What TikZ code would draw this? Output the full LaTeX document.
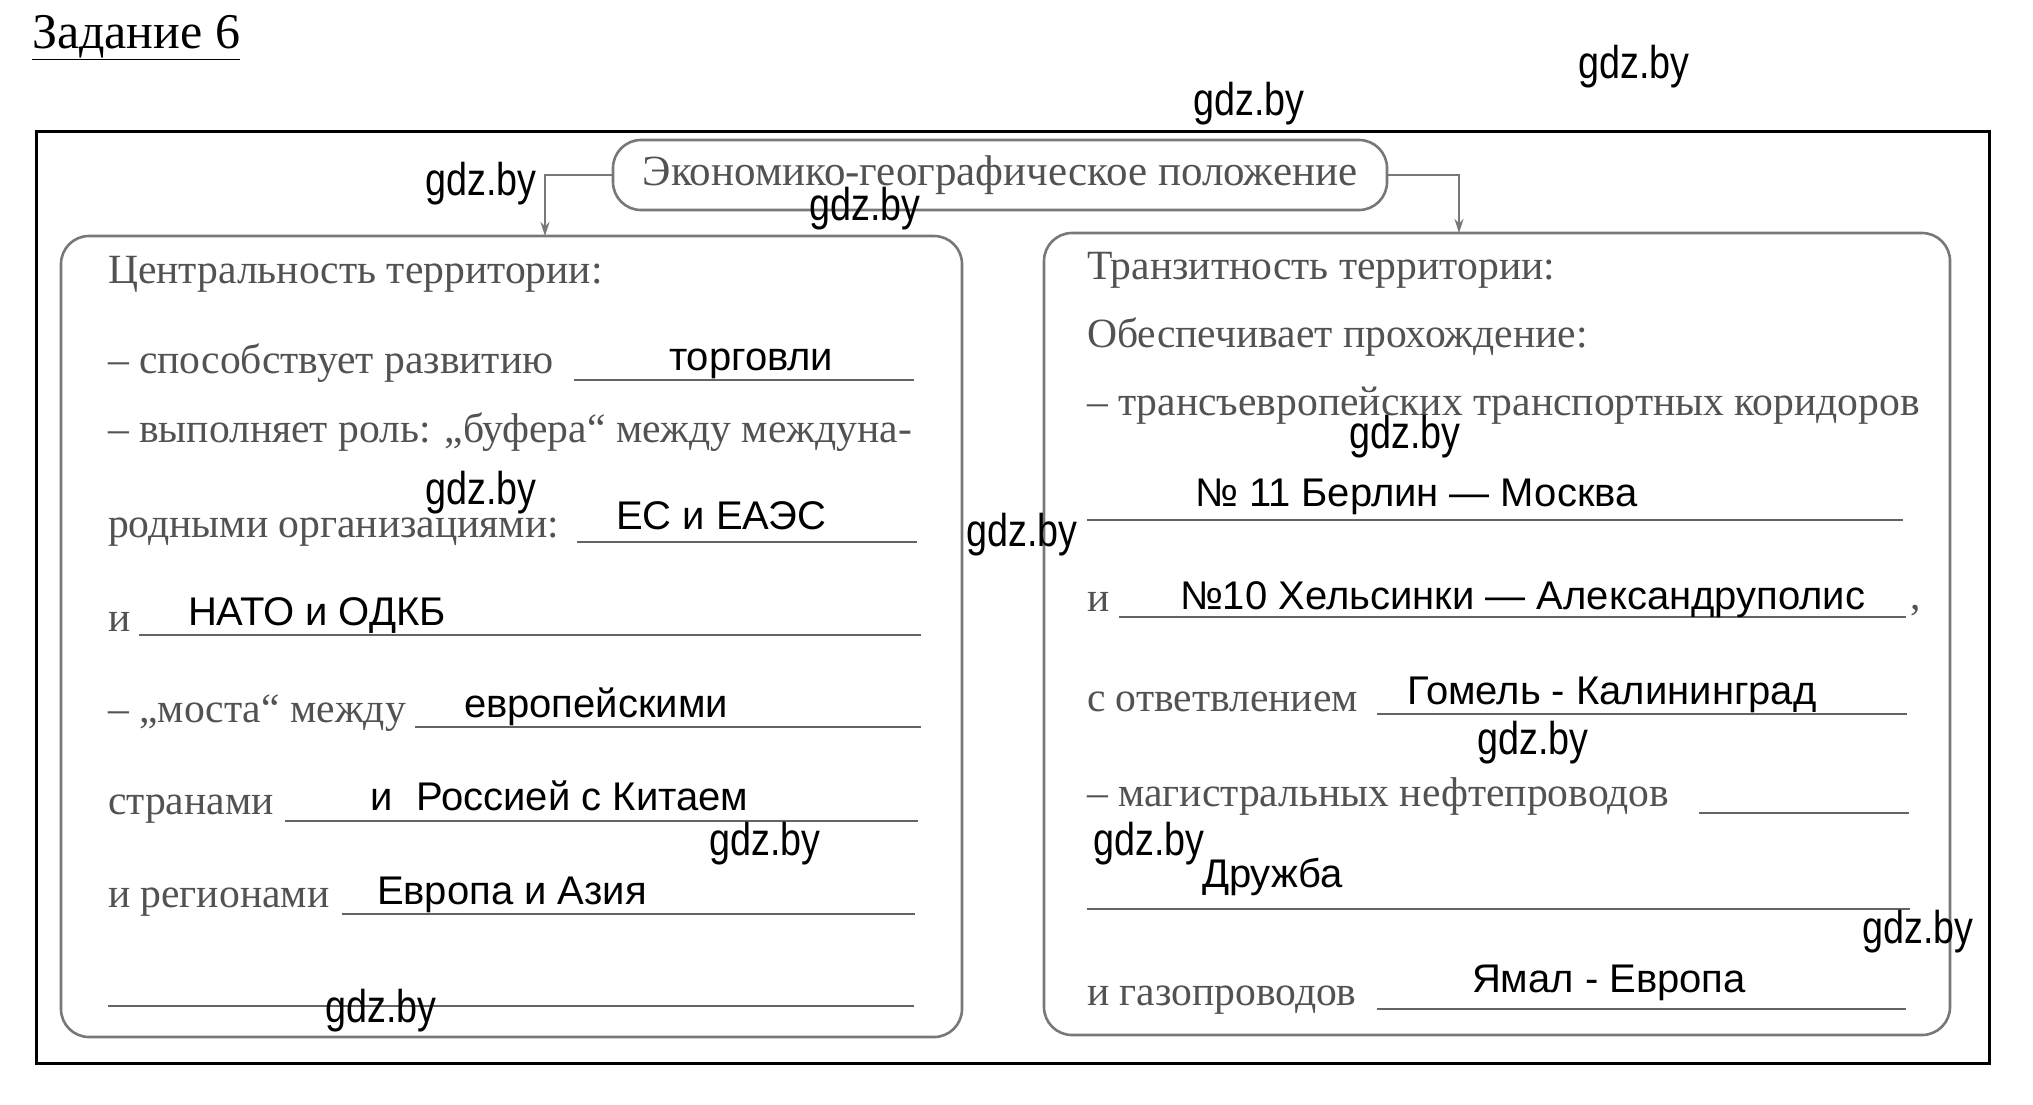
\documentclass[tikz,border=0pt]{standalone}
\usepackage{fontspec}
\setmainfont{Liberation Serif}
\newfontfamily\answerfont{Liberation Sans}
\newfontfamily\markfont[FakeStretch=0.82]{Liberation Sans}
\usetikzlibrary{arrows.meta}

\tikzset{
  printed/.style={text=printColor,anchor=base west,inner sep=0pt,outer sep=0pt,font=\fontsize{41.6}{48}\selectfont},
  answer/.style={text=black,anchor=base west,inner sep=0pt,outer sep=0pt,font=\answerfont\fontsize{40}{46}\selectfont},
  watermark/.style={text=black,anchor=center,inner sep=0pt,outer sep=0pt,font=\markfont\fontsize{46}{52}\selectfont},
  fillline/.style={draw=lineColor,line width=2.4pt},
  panel/.style={draw=panelColor,line width=2.6pt,rounded corners=28pt,inner sep=0pt,outer sep=0pt},
  link/.style={draw=panelColor,line width=2pt,-{Stealth[length=14pt,width=9pt]}}
}

\begin{document}
\begin{tikzpicture}[x=1pt,y=-1pt]
\definecolor{fillColor}{RGB}{255,255,255}
\definecolor{printColor}{RGB}{82,82,82}
\definecolor{panelColor}{RGB}{120,120,120}
\definecolor{lineColor}{RGB}{100,100,100}
\path[use as bounding box,fill=fillColor] (0,0) rectangle (2033,1104);

% heading and frame
\node[text=black,anchor=base west,inner sep=0pt,outer sep=0pt,font=\fontsize{50}{58}\selectfont] (task) at ( 32.0, 48.0) {\underline{Задание 6}};
\draw[black,line width=3pt] ( 36.0,131.0) rectangle (1989.0,1063.0);

% boxes
\node[panel,minimum width=774pt,minimum height=70pt,text=printColor,font=\fontsize{43}{50}\selectfont] (epg) at (1000.0,175.0) {Экономико-географическое положение};
\node[panel,minimum width=901pt,minimum height=801pt] (central) at ( 511.5,636.5) {};
\node[panel,minimum width=906pt,minimum height=802pt] (transit) at (1497.0,634.0) {};

\draw[link] (epg.west) -| ([xshift=33.5pt]central.north);
\draw[link] (epg.east) -| ([xshift=-38pt]transit.north);

% left box
\node[printed] (c1) at ( 108.0,283.0) {Центральность территории:};
\node[printed] (c2) at ( 108.0,373.0) {– способствует развитию};
\node[printed] (c3) at ( 108.0,442.0) {– выполняет роль: „буфера“ между междуна-};
\node[printed] (c4) at ( 108.0,537.0) {родными организациями:};
\node[printed] (c5) at ( 108.0,631.0) {и};
\node[printed] (c6) at ( 108.0,722.0) {– „моста“ между};
\node[printed] (c7) at ( 108.0,814.0) {странами};
\node[printed] (c8) at ( 108.0,907.0) {и регионами};

\draw[fillline] ( 574.0,380.0) -- ( 914.0,380.0);
\draw[fillline] ( 577.0,542.0) -- ( 917.0,542.0);
\draw[fillline] ( 139.0,635.0) -- ( 921.0,635.0);
\draw[fillline] ( 415.0,727.0) -- ( 921.0,727.0);
\draw[fillline] ( 285.0,821.0) -- ( 918.0,821.0);
\draw[fillline] ( 342.0,914.0) -- ( 915.0,914.0);
\draw[fillline] ( 108.0,1006.0) -- ( 914.0,1006.0);

\node[answer] (ca1) at ( 669.0,370.0) {торговли};
\node[answer] (ca2) at ( 616.0,529.0) {ЕС и ЕАЭС};
\node[answer] (ca3) at ( 188.0,625.0) {НАТО и ОДКБ};
\node[answer] (ca4) at ( 464.0,717.0) {европейскими};
\node[answer] (ca5) at ( 370.0,810.0) {и\hspace{0.6em}Россией с Китаем};
\node[answer] (ca6) at ( 377.0,904.0) {Европа и Азия};

% right box
\node[printed] (t1) at (1087.0,279.0) {Транзитность территории:};
\node[printed] (t2) at (1087.0,347.0) {Обеспечивает прохождение:};
\node[printed] (t3) at (1087.0,415.0) {– трансъевропейских транспортных коридоров};
\node[printed] (t4) at (1087.0,611.0) {и};
\node[printed] (t5) at (1910.0,609.0) {,};
\node[printed] (t6) at (1087.0,711.0) {с ответвлением};
\node[printed] (t7) at (1087.0,806.0) {– магистральных нефтепроводов};
\node[printed] (t8) at (1087.0,1005.0) {и газопроводов};

\draw[fillline] (1087.0,520.0) -- (1903.0,520.0);
\draw[fillline] (1119.0,617.0) -- (1906.0,617.0);
\draw[fillline] (1377.0,714.0) -- (1907.0,714.0);
\draw[fillline] (1699.0,813.0) -- (1909.0,813.0);
\draw[fillline] (1087.0,909.0) -- (1910.0,909.0);
\draw[fillline] (1377.0,1009.0) -- (1906.0,1009.0);

\node[answer] (ta1) at (1195.0,506.0) {№ 11 Берлин — Москва};
\node[answer] (ta2) at (1180.0,609.0) {№10 Хельсинки — Александруполис};
\node[answer] (ta3) at (1407.0,704.0) {Гомель - Калининград};
\node[answer] (ta4) at (1202.0,887.0) {Дружба};
\node[answer] (ta5) at (1472.0,992.0) {Ямал - Европа};

% watermarks
\node[watermark] (wm1) at (1634.0, 67.0) {gdz.by};
\node[watermark] (wm2) at (1249.0,104.0) {gdz.by};
\node[watermark] (wm3) at ( 481.0,184.0) {gdz.by};
\node[watermark] (wm4) at ( 865.0,209.0) {gdz.by};
\node[watermark] (wm5) at (1405.0,437.0) {gdz.by};
\node[watermark] (wm6) at ( 481.0,493.0) {gdz.by};
\node[watermark] (wm7) at (1022.0,535.0) {gdz.by};
\node[watermark] (wm8) at (1533.0,743.0) {gdz.by};
\node[watermark] (wm9) at ( 765.0,844.0) {gdz.by};
\node[watermark] (wm10) at (1149.0,844.0) {gdz.by};
\node[watermark] (wm11) at (1918.0,932.0) {gdz.by};
\node[watermark] (wm12) at ( 381.0,1011.0) {gdz.by};
\end{tikzpicture}
\end{document}
